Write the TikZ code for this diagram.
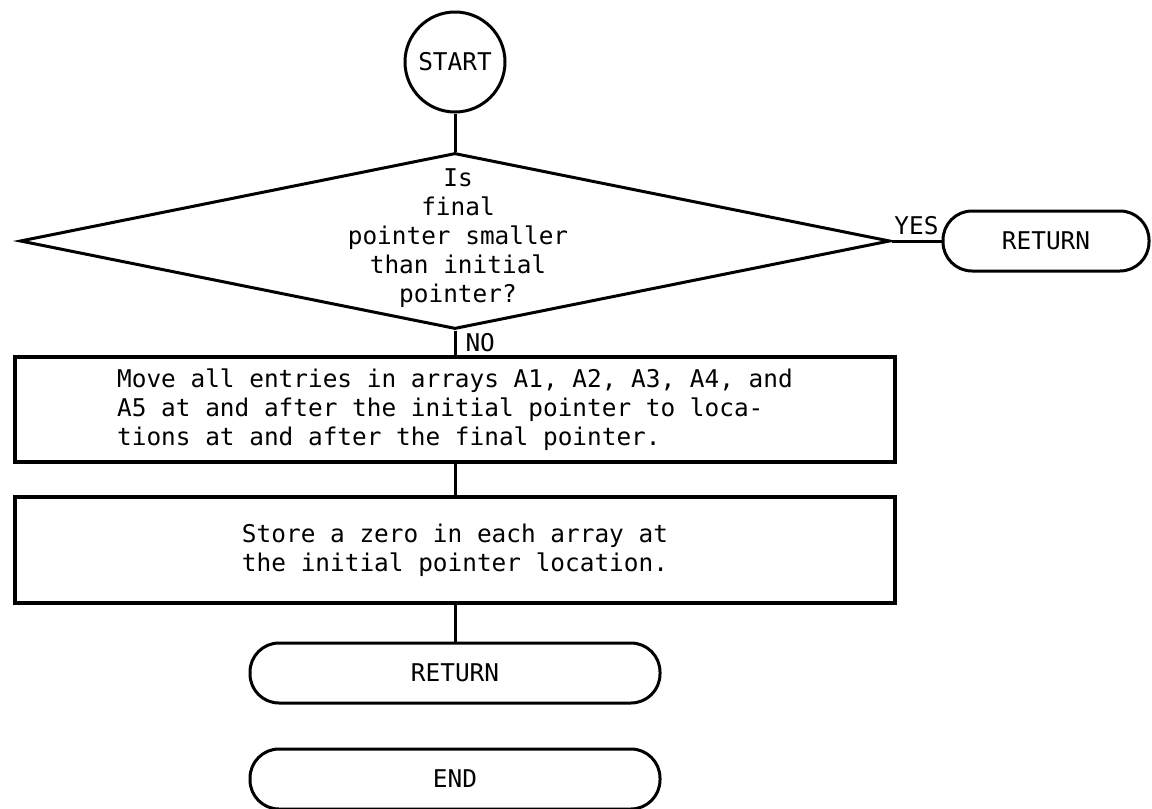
\documentclass[tikz,border=0pt]{standalone}
\usepackage{fontspec}
\setmonofont{DejaVu Sans Mono}
\usetikzlibrary{shapes.geometric}
\begin{document}
\begin{tikzpicture}[x=1pt,y=-1pt,
  every node/.style={font=\ttfamily\fontsize{24.4}{29}\selectfont},
  conn/.style={line width=3pt},
  startcircle/.style={circle, draw, line width=3pt, minimum size=100pt, inner sep=0pt},
  decision/.style={diamond, draw, line width=3pt, minimum width=870pt, minimum height=176pt, inner sep=0pt},
  procbox/.style={rectangle, draw, line width=3.2pt, minimum width=880pt, inner sep=0pt},
  terminal/.style={rectangle, rounded corners=29pt, draw, line width=3pt, minimum height=60pt, inner sep=0pt}
]
\useasboundingbox (0,0) rectangle (1152,809);

\node[startcircle] (start) at (455,62) {START};
\node[decision] (dec) at (455,241) {};
\node[align=center, inner sep=0pt] (q) at ([xshift=3pt,yshift=3pt]dec.center) {Is\\final\\pointer smaller\\than initial\\pointer?};
\node[terminal, minimum width=206pt] (ret1) at (1046,241) {RETURN};
\node[procbox, minimum height=105pt, align=left] (move) at (455,409.5)
  {Move all entries in arrays A1, A2, A3, A4, and\\A5 at and after the initial pointer to loca-\\tions at and after the final pointer.};
\node[procbox, minimum height=106pt, align=center] (store) at (455,550)
  {Store a zero in each array at\\the initial pointer location.};
\node[terminal, minimum width=410pt] (ret2) at (455,673) {RETURN};
\node[terminal, minimum width=410pt] (fin) at (455,779) {END};

\draw[conn] (start) -- (dec.north);
\draw[conn] (dec.east) -- node[above=5pt, inner sep=0pt] {YES} (ret1.west);
\draw[conn] (dec.south) -- node[anchor=west, xshift=9pt, inner sep=0pt] {NO} (move.north);
\draw[conn] (move.south) -- (store.north);
\draw[conn] (store.south) -- (ret2.north);
\end{tikzpicture}
\end{document}
